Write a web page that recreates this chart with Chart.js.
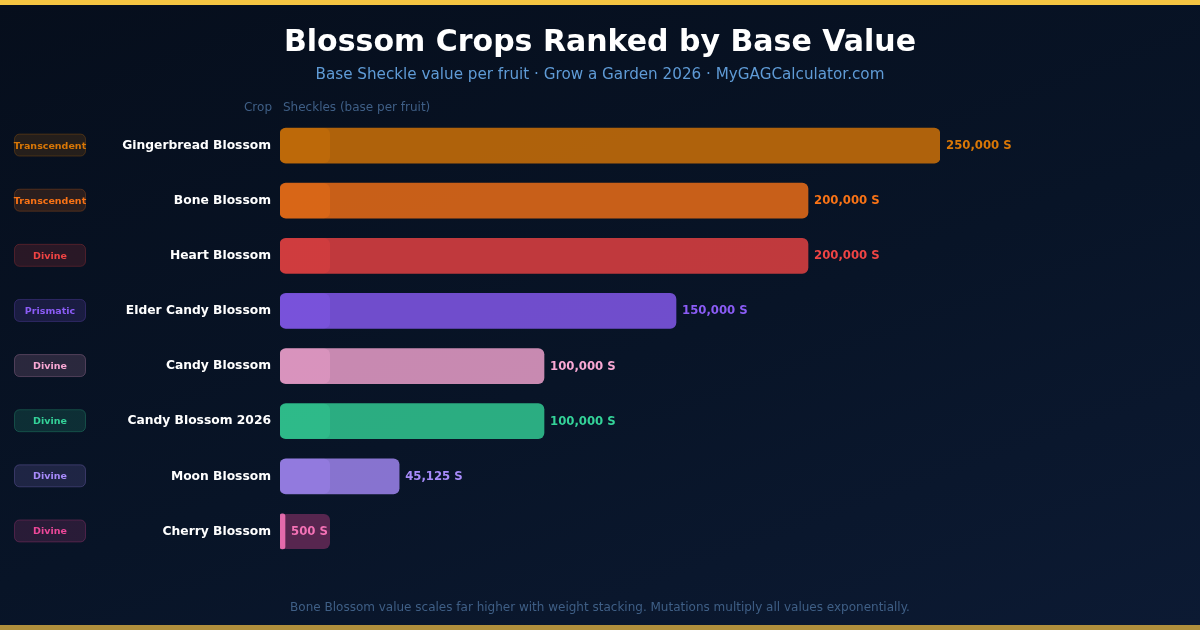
<!DOCTYPE html>
<html>
<head>
<meta charset="utf-8">
<script src="https://cdn.jsdelivr.net/npm/chart.js@4.4.1/dist/chart.umd.min.js"></script>
<style>
  html, body { margin: 0; padding: 0; background: #060d1a; }
  .frame {
    position: relative;
    width: 1200px;
    height: 630px;
    overflow: hidden;
    background: linear-gradient(160deg, #060e1c 0%, #081427 55%, #0c1a33 100%);
    font-family: 'DejaVu Sans', sans-serif;
  }
  .frame::before, .frame::after {
    content: '';
    position: absolute;
    left: 0;
    right: 0;
    height: 5px;
  }
  .frame::before { top: 0; background: #f5c542; }
  .frame::after { bottom: 0; background: #b08f3c; }
  canvas { position: absolute; left: 0; top: 0; }
  .title {
    position: absolute; left: 0; right: 0; top: 23px;
    text-align: center; color: #ffffff; font-weight: bold; font-size: 30px;
  }
  .subtitle {
    position: absolute; left: 0; right: 0; top: 65px;
    text-align: center; color: #5f9bd6; font-size: 15.2px;
  }
  .hdr { position: absolute; top: 100px; color: #3f5f86; font-size: 12px; }
  .footer {
    position: absolute; left: 0; right: 0; top: 600px;
    text-align: center; color: #3f5f86; font-size: 12px;
  }
</style>
</head>
<body>
<div class="frame">
  <canvas id="chart" width="1200" height="630"></canvas>
  <div class="title">Blossom Crops Ranked by Base Value</div>
  <div class="subtitle">Base Sheckle value per fruit · Grow a Garden 2026 · MyGAGCalculator.com</div>
  <div class="hdr" style="right: 928px;">Crop</div>
  <div class="hdr" style="left: 283px;">Sheckles (base per fruit)</div>
  <div class="footer">Bone Blossom value scales far higher with weight stacking. Mutations multiply all values exponentially.</div>
</div>
<script>
const crops = [
  'Gingerbread Blossom',
  'Bone Blossom',
  'Heart Blossom',
  'Elder Candy Blossom',
  'Candy Blossom',
  'Candy Blossom 2026',
  'Moon Blossom',
  'Cherry Blossom',
];
const values = [250000, 200000, 200000, 150000, 100000, 100000, 45125, 500];
const rarities = ['Transcendent', 'Transcendent', 'Divine', 'Prismatic', 'Divine', 'Divine', 'Divine', 'Divine'];
const colors = ['#d97706', '#f97316', '#ef4444', '#8b5cf6', '#f9a8d4', '#34d399', '#a78bfa', '#ec4899'];

function alpha(hex, a) {
  const n = parseInt(hex.slice(1), 16);
  return `rgba(${(n >> 16) & 255}, ${(n >> 8) & 255}, ${n & 255}, ${a})`;
}

// light track behind the start of every bar, plus badges and value labels
const decor = {
  id: 'decor',
  beforeDatasetsDraw(chart) {
    const ctx = chart.ctx;
    const x0 = chart.scales.x.getPixelForValue(0);
    chart.getDatasetMeta(0).data.forEach((bar, i) => {
      const h = bar.height;
      ctx.save();
      ctx.fillStyle = alpha(colors[i], 0.35);
      ctx.beginPath();
      ctx.roundRect(x0, bar.y - h / 2, 50, h, 6);
      ctx.fill();
      ctx.restore();
    });
  },
  afterDatasetsDraw(chart) {
    const ctx = chart.ctx;
    const yScale = chart.scales.y;
    chart.getDatasetMeta(0).data.forEach((bar, i) => {
      const y = yScale.getPixelForTick(i);
      ctx.save();
      // value label
      ctx.font = 'bold 11.7px "DejaVu Sans"';
      ctx.fillStyle = i === 7 ? '#f472b6' : colors[i];
      ctx.textAlign = 'left';
      ctx.textBaseline = 'middle';
      ctx.fillText(values[i].toLocaleString('en-US') + ' S', bar.x + 6, y + 0.5);
      // rarity badge
      ctx.fillStyle = alpha(colors[i], 0.15);
      ctx.strokeStyle = alpha(colors[i], 0.25);
      ctx.lineWidth = 1;
      ctx.beginPath();
      ctx.roundRect(14.5, y - 11.5, 71, 22, 5);
      ctx.fill();
      ctx.stroke();
      ctx.font = 'bold 9.5px "DejaVu Sans"';
      ctx.fillStyle = colors[i];
      ctx.textAlign = 'center';
      ctx.fillText(rarities[i], 50, y + 0.5);
      ctx.restore();
    });
  },
};

new Chart(document.getElementById('chart'), {
  type: 'bar',
  data: {
    labels: crops,
    datasets: [{
      data: values,
      backgroundColor: colors.map((c, i) => alpha(i === 7 ? '#f472b6' : c, i === 7 ? 0.9 : 0.8)),
      borderRadius: 6,
      borderSkipped: false,
      barThickness: 35,
      minBarLength: 5,
    }],
  },
  options: {
    indexAxis: 'y',
    responsive: false,
    animation: false,
    layout: { padding: { top: 118, bottom: 71, right: 260, left: 0 } },
    plugins: { legend: { display: false }, tooltip: { enabled: false } },
    scales: {
      x: { display: false, min: 0, max: 250000 },
      y: {
        afterFit(scale) { scale.width = 280; },
        grid: { display: false },
        border: { display: false },
        ticks: {
          color: '#ffffff',
          padding: 1,
          font: { family: 'DejaVu Sans', weight: 'bold', size: 12.3 },
        },
      },
    },
  },
  plugins: [decor],
});
</script>
</body>
</html>
